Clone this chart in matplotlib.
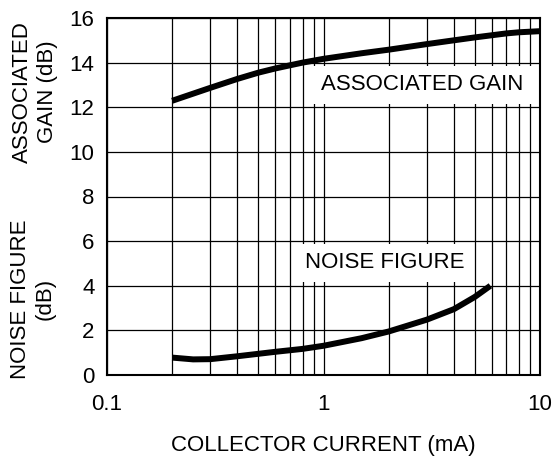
import numpy as np
import matplotlib
matplotlib.use("Agg")
from matplotlib import pyplot as plt
from matplotlib.ticker import FixedLocator, NullFormatter

plt.rcParams['font.family'] = ['Liberation Sans', 'DejaVu Sans']

# collector current (mA) and the two curves
gain_ic = [0.2, 0.3, 0.4, 0.5, 0.6, 0.7, 0.8, 1.0, 1.5, 2.0, 3.0, 4.0, 5.0, 7.0, 8.0, 10.0]
gain_db = [12.29, 12.87, 13.27, 13.55, 13.74, 13.88, 14.0, 14.17, 14.42, 14.58,
           14.83, 15.0, 15.13, 15.31, 15.36, 15.41]

nf_ic = [0.2, 0.25, 0.3, 0.4, 0.5, 0.6, 0.8, 1.0, 1.5, 2.0, 3.0, 4.0, 5.0, 5.9]
nf_db = [0.78, 0.70, 0.71, 0.84, 0.95, 1.04, 1.17, 1.31, 1.65, 1.95, 2.48, 2.95,
         3.5, 4.0]

x_ticks = [0.1, 1, 10]
x_tick_labels = ["0.1", "1", "10"]
y_ticks = [0, 2, 4, 6, 8, 10, 12, 14, 16]

fs = 16

fig = plt.figure(figsize=(5.53, 4.59), dpi=100)
ax = fig.add_axes([107/553, 1 - 375/459, 433/553, 357/459])

ax.plot(gain_ic, gain_db, color="black", lw=4.3, solid_capstyle="butt",
        solid_joinstyle="round", zorder=3)
ax.plot(nf_ic, nf_db, color="black", lw=4.3, solid_capstyle="butt",
        solid_joinstyle="round", zorder=3)

ax.set_xscale("log")
ax.set_xlim(0.1, 10)
ax.set_ylim(0, 16)
ax.set_xticks(x_ticks)
ax.set_xticklabels(x_tick_labels)
minor = [m * d for d in (0.1, 1) for m in range(2, 10)]
ax.xaxis.set_minor_locator(FixedLocator(minor))
ax.xaxis.set_minor_formatter(NullFormatter())
ax.set_yticks(y_ticks)

ax.grid(True, which="major", color="black", lw=0.9)
ax.grid(True, which="minor", axis="x", color="black", lw=0.9)
ax.tick_params(which="both", length=0, labelsize=fs)
ax.tick_params(axis="x", pad=14)
ax.tick_params(axis="y", pad=9)
for s in ax.spines.values():
    s.set_linewidth(1.5)

ax.set_xlabel("COLLECTOR CURRENT (mA)", fontsize=fs, labelpad=14)

# labels inside the plot, white box hides the grid
box = dict(facecolor="white", edgecolor="none", pad=6)
ax.text(2.866, 13.0, "ASSOCIATED GAIN", fontsize=fs, ha="center", va="center",
        bbox=box, zorder=4)
ax.text(1.923, 5.02, "NOISE FIGURE", fontsize=fs, ha="center", va="center",
        bbox=box, zorder=4)

# two y axis labels
fig.text(35/553, 1 - 92/459, "ASSOCIATED\nGAIN (dB)", rotation=90, fontsize=fs,
         ha="center", va="center", multialignment="center", linespacing=1.2)
fig.text(33/553, 1 - 299/459, "NOISE FIGURE\n(dB)", rotation=90, fontsize=fs,
         ha="center", va="center", multialignment="center", linespacing=1.25)

fig.savefig("out.png", dpi=100)
